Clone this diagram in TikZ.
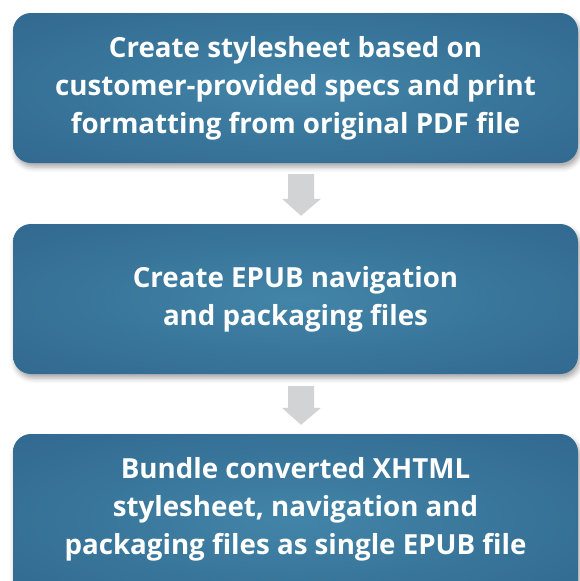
\documentclass[tikz,border=0pt]{standalone}
\usepackage{fontspec}
\setmainfont{Open Sans}
\usetikzlibrary{shadows.blur,calc}
\definecolor{cin}{RGB}{66,133,168}
\definecolor{cmid}{RGB}{56,116,153}
\definecolor{cout}{RGB}{44,94,136}
\definecolor{arrowgray}{RGB}{210,211,213}
\pgfdeclareradialshading{boxshade}{\pgfpoint{0bp}{0bp}}{color(0bp)=(cin); color(20bp)=(cmid); color(50bp)=(cout); color(100bp)=(cout)}
\tikzset{
  stepbox/.style={rectangle, rounded corners=18pt, shade, shading=boxshade,
    minimum width=565pt, minimum height=150pt, inner sep=0pt,
    text=white, align=center, font=\bfseries\fontsize{27.7}{38}\selectfont,
    blur shadow={shadow xshift=2pt, shadow yshift=-4pt, shadow blur radius=5pt, shadow opacity=35}},
  flowarrow/.style={fill=arrowgray}
}
\begin{document}
\begin{tikzpicture}[x=1pt,y=-1pt]
\useasboundingbox (0,0) rectangle (579,581);
\node[stepbox] (b1) at (295.5,88) {Create stylesheet based on\\customer-provided specs and print\\formatting from original PDF file};
\node[stepbox] (b2) at (295.5,299) {Create EPUB navigation\\and packaging files};
\node[stepbox, minimum height=170pt, text depth=26.5pt] (b3) at (295.5,519) {Bundle converted XHTML\\stylesheet, navigation and\\packaging files as single EPUB file};
% connectors
\fill[flowarrow] ($(b1.south)+(-7.5,11)$) -- ($(b1.south)+(18.5,11)$) -- ($(b2.north)+(18.5,-25)$) -- ($(b2.north)+(25.5,-25)$) -- ($(b2.north)+(5.5,-8)$) -- ($(b2.north)+(-13.5,-25)$) -- ($(b2.north)+(-7.5,-25)$) -- cycle;
\fill[flowarrow] ($(b2.south)+(-7.5,12)$) -- ($(b2.south)+(18.5,12)$) -- ($(b3.north)+(18.5,-26)$) -- ($(b3.north)+(25.5,-26)$) -- ($(b3.north)+(5.5,-9)$) -- ($(b3.north)+(-13.5,-26)$) -- ($(b3.north)+(-7.5,-26)$) -- cycle;
\end{tikzpicture}
\end{document}
